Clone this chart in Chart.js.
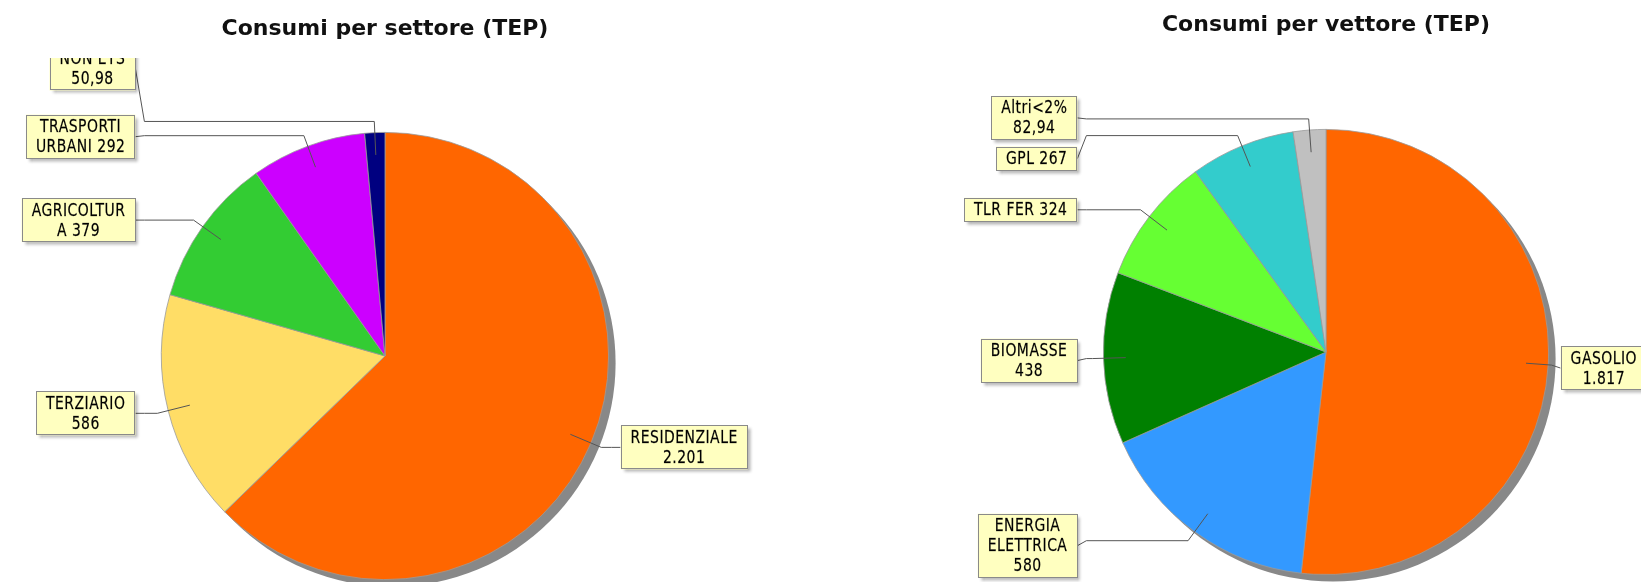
<!DOCTYPE html>
<html>
<head>
<meta charset="utf-8">
<title>Consumi</title>
<script src="https://cdn.jsdelivr.net/npm/chart.js@4.4.0/dist/chart.umd.min.js"></script>
<style>
  html, body { margin: 0; padding: 0; background: #fff; overflow: hidden; }
  body { width: 1641px; height: 582px; position: relative; }
  #boxSettore { position: absolute; left: 0; top: 0; width: 770px; height: 582px; }
  #boxVettore { position: absolute; left: 870px; top: 0; width: 912px; height: 582px; }
</style>
</head>
<body>
<div id="boxSettore"><canvas id="pieSettore"></canvas></div>
<div id="boxVettore"><canvas id="pieVettore"></canvas></div>
<script>
// consumi per settore (TEP)
const settoreLabels = ['RESIDENZIALE', 'TERZIARIO', 'AGRICOLTURA', 'TRASPORTI URBANI', 'NON ETS'];
const settoreValues = [2201, 586, 379, 292, 50.98];
const settoreColors = ['#ff6600', '#ffdd66', '#33cc33', '#cc00ff', '#000080'];

// consumi per vettore (TEP)
const vettoreLabels = ['GASOLIO', 'ENERGIA ELETTRICA', 'BIOMASSE', 'TLR FER', 'GPL', 'Altri<2%'];
const vettoreValues = [1817, 580, 438, 324, 267, 82.94];
const vettoreColors = ['#ff6600', '#3399ff', '#008000', '#66ff33', '#33cccc', '#c0c0c0'];

// callout label look
const LABEL_FONT = '17px "DejaVu Sans"';
const LABEL_SQUEEZE = 0.82;
const LABEL_TRACKING = '0.6px';
const LINE_H = 20;
const WRAP_LEFT = 98;   // less room on the left of the pie
const WRAP_RIGHT = 108;
const PAD_X = 10;

// 2201 -> "2.201", 50.98 -> "50,98"
function formatIt(v) {
  const parts = String(v).split('.');
  const grouped = parts[0].replace(/\B(?=(\d{3})+(?!\d))/g, '.');
  return parts[1] ? grouped + ',' + parts[1] : grouped;
}

function textW(ctx, s) {
  return ctx.measureText(s).width * LABEL_SQUEEZE;
}

// word wrap, breaking words that are too long on their own
function wrapLabel(ctx, text, maxW) {
  const lines = [];
  let cur = '';
  for (let w of text.split(' ')) {
    const trial = cur ? cur + ' ' + w : w;
    if (textW(ctx, trial) <= maxW) { cur = trial; continue; }
    if (cur) { lines.push(cur); cur = ''; }
    while (textW(ctx, w) > maxW) {
      let n = w.length - 1;
      while (n > 1 && textW(ctx, w.slice(0, n)) > maxW) n--;
      lines.push(w.slice(0, n));
      w = w.slice(n);
    }
    cur = w;
  }
  if (cur) lines.push(cur);
  return lines;
}

// gray drop shadow under the whole pie
const pieShadow = {
  id: 'pieShadow',
  beforeDatasetsDraw(chart, args, opts) {
    const arc = chart.getDatasetMeta(0).data[0];
    if (!arc) return;
    const ctx = chart.ctx;
    ctx.save();
    ctx.fillStyle = opts.color;
    ctx.beginPath();
    ctx.arc(arc.x + opts.dx, arc.y + opts.dy, arc.outerRadius, 0, Math.PI * 2);
    ctx.fill();
    ctx.restore();
  }
};

// yellow boxes with leader lines, left/right of the pie
const calloutLabels = {
  id: 'calloutLabels',
  afterDatasetsDraw(chart, args, opts) {
    const ctx = chart.ctx;
    const meta = chart.getDatasetMeta(0);
    const values = chart.data.datasets[0].data;
    ctx.save();
    ctx.beginPath();
    ctx.rect(0, opts.clipTop, chart.width, chart.height);
    ctx.clip();
    ctx.font = LABEL_FONT;
    ctx.letterSpacing = LABEL_TRACKING;
    meta.data.forEach((arc, i) => {
      const r = arc.outerRadius, cx = arc.x, cy = arc.y;
      const mid = (arc.startAngle + arc.endAngle) / 2;
      const cos = Math.cos(mid), sin = Math.sin(mid);
      const ax = cx + cos * r * 0.9, ay = cy + sin * r * 0.9;
      let bx = cx + cos * r * 1.05;
      const by = cy + sin * r * 1.05;
      const right = cos > 0;

      const text = chart.data.labels[i] + ' ' + formatIt(values[i]);
      const lines = wrapLabel(ctx, text, right ? WRAP_RIGHT : WRAP_LEFT);
      const w = Math.max(...lines.map(l => textW(ctx, l))) + 2 * PAD_X;
      const h = lines.length * LINE_H + 4;
      const ly = by + (opts.nudge[i] || 0);
      const edge = right ? cx + r + 12 : cx - r - 26;
      const boxX = right ? edge : edge - w;
      const knee = right ? edge - 9 : edge + 9;
      if (right ? bx > knee : bx < knee) bx = knee;

      ctx.strokeStyle = '#555';
      ctx.lineWidth = 1;
      ctx.beginPath();
      ctx.moveTo(ax, ay);
      ctx.lineTo(bx, by);
      ctx.lineTo(knee, by);
      ctx.lineTo(edge, ly);
      ctx.stroke();

      const top = ly - h / 2;
      ctx.save();
      ctx.shadowColor = 'rgba(0,0,0,0.3)';
      ctx.shadowBlur = 3;
      ctx.shadowOffsetX = 3;
      ctx.shadowOffsetY = 3;
      ctx.fillStyle = '#ffffc0';
      ctx.fillRect(boxX, top, w, h);
      ctx.restore();
      ctx.strokeStyle = '#8a8a8a';
      ctx.strokeRect(Math.round(boxX) + 0.5, Math.round(top) + 0.5, Math.round(w) - 1, Math.round(h) - 1);

      lines.forEach((l, k) => {
        ctx.save();
        ctx.translate(boxX + w / 2, top + 2 + LINE_H * (k + 0.5));
        ctx.scale(LABEL_SQUEEZE, 1);
        ctx.fillStyle = '#000';
        ctx.strokeStyle = 'rgba(0,0,0,0.55)';
        ctx.lineWidth = 0.35;
        ctx.textAlign = 'center';
        ctx.textBaseline = 'middle';
        ctx.fillText(l, 0, 1);
        ctx.strokeText(l, 0, 1);
        ctx.restore();
      });
    });
    ctx.restore();
  }
};

function pieChart(canvasId, title, labels, values, colors, layout) {
  return new Chart(document.getElementById(canvasId), {
    type: 'pie',
    data: {
      labels: labels,
      datasets: [{
        data: values,
        backgroundColor: colors,
        borderColor: '#9a9a9a',
        borderWidth: 0.8
      }]
    },
    options: {
      responsive: true,
      maintainAspectRatio: false,
      animation: false,
      layout: { padding: { top: 0, bottom: layout.bottom, left: 0, right: 0 } },
      plugins: {
        legend: { display: false },
        tooltip: { enabled: false },
        title: {
          display: true,
          text: title,
          color: '#111',
          font: { family: 'DejaVu Sans', size: 22, weight: 'bold' },
          padding: { top: layout.titleTop, bottom: layout.titleGap }
        },
        pieShadow: { color: '#888', dx: 7, dy: 7 },
        calloutLabels: { clipTop: 58, nudge: layout.nudge }
      }
    },
    plugins: [pieShadow, calloutLabels]
  });
}

pieChart('pieSettore', 'Consumi per settore (TEP)', settoreLabels, settoreValues, settoreColors,
  { titleTop: 16, titleGap: 89.6, bottom: 2, nudge: [0, 0, 0, 1, -53] });
pieChart('pieVettore', 'Consumi per vettore (TEP)', vettoreLabels, vettoreValues, vettoreColors,
  { titleTop: 12, titleGap: 90.6, bottom: 7, nudge: [3, 5, 2, 0, 23, -1] });
</script>
</body>
</html>
